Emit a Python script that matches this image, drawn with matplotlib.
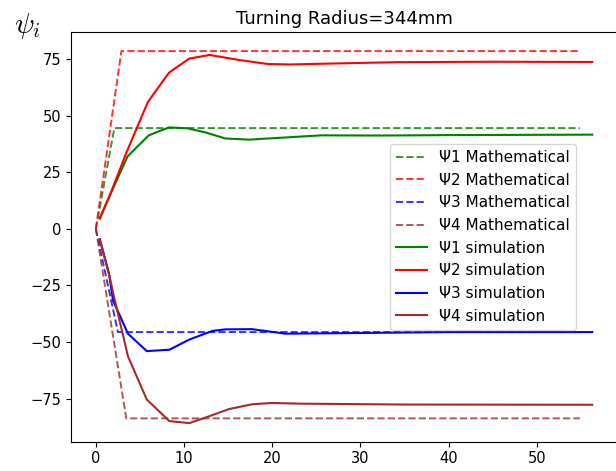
import matplotlib
matplotlib.use("Agg")
import matplotlib.pyplot as plt

plt.rcParams["mathtext.fontset"] = "cm"

# mathematical (ideal) steering angles: origin -> step corner -> end
MATH_T = {
    1: [0, 2.1, 54.9],
    2: [0, 2.9, 54.9],
    3: [0, 2.5, 54.9],
    4: [0, 3.45, 54.9],
}
MATH_PSI = {
    1: [0, 44.5, 44.5],
    2: [0, 78.5, 78.5],
    3: [0, -45.6, -45.6],
    4: [0, -83.7, -83.7],
}

# simulation curves
SIM1_T = [0.45, 1.5, 3.6, 6.0, 8.3, 10.4, 12.5, 14.7, 17.4, 20.4, 25.6, 32.0, 40.0, 56.3]
SIM1_PSI = [4.6, 14, 32, 41.3, 44.8, 44.4, 42.5, 39.9, 39.4, 40.1, 41.3, 41.2, 41.4, 41.6]

SIM2_T = [0.45, 1.5, 3.5, 5.9, 8.3, 10.6, 12.9, 16.2, 19.5, 22.0, 26.7, 34.0, 45.0, 56.3]
SIM2_PSI = [4.6, 14, 34, 56, 69, 75.2, 76.8, 74.6, 72.8, 72.6, 73.0, 73.6, 73.8, 73.7]

SIM3_T = [0.45, 1.5, 1.95, 3.64, 5.78, 8.34, 10.6, 13.2, 14.7, 17.7, 21.5, 30.0, 40.0, 56.3]
SIM3_PSI = [-4.6, -20, -31.6, -46.3, -54.0, -53.4, -48.9, -45.1, -44.4, -44.3, -46.3, -46.0, -45.6, -45.6]

SIM4_T = [0.45, 1.5, 2.0, 3.64, 5.78, 8.34, 10.6, 12.85, 15.1, 17.7, 20.0, 23.0, 35.0, 56.3]
SIM4_PSI = [-4.6, -20, -29, -56.3, -75.4, -84.9, -85.8, -82.8, -79.6, -77.5, -76.9, -77.2, -77.6, -77.7]

COLORS = {1: "green", 2: "red", 3: "blue", 4: "brown"}


def main():
    fig = plt.figure(figsize=(6.16, 4.71), dpi=100)
    ax = fig.add_axes([0.1153, 0.0622, 0.8864, 0.8688])

    for i in range(1, 5):
        ax.plot(MATH_T[i], MATH_PSI[i], "--", color=COLORS[i], lw=1.4, alpha=0.8,
                label=f"Ψ{i} Mathematical")

    sims = [(SIM1_T, SIM1_PSI), (SIM2_T, SIM2_PSI), (SIM3_T, SIM3_PSI), (SIM4_T, SIM4_PSI)]
    for i, (t, psi) in enumerate(sims, start=1):
        ax.plot(t, psi, "-", color=COLORS[i], lw=1.5, label=f"Ψ{i} simulation")

    ax.set_title("Turning Radius=344mm", fontsize=13)
    ax.tick_params(labelsize=10.5)
    ax.set_yticks([-75, -50, -25, 0, 25, 50, 75])
    ax.set_xticks([0, 10, 20, 30, 40, 50])
    ax.legend(loc="upper right", bbox_to_anchor=(0.925, 0.7275),
              borderaxespad=0, fontsize=11)

    fig.text(0.022, 1 - 11 / 471, r"$\psi_i$", fontsize=21, va="top", ha="left")

    fig.savefig("out.png", dpi=100)


if __name__ == "__main__":
    main()
